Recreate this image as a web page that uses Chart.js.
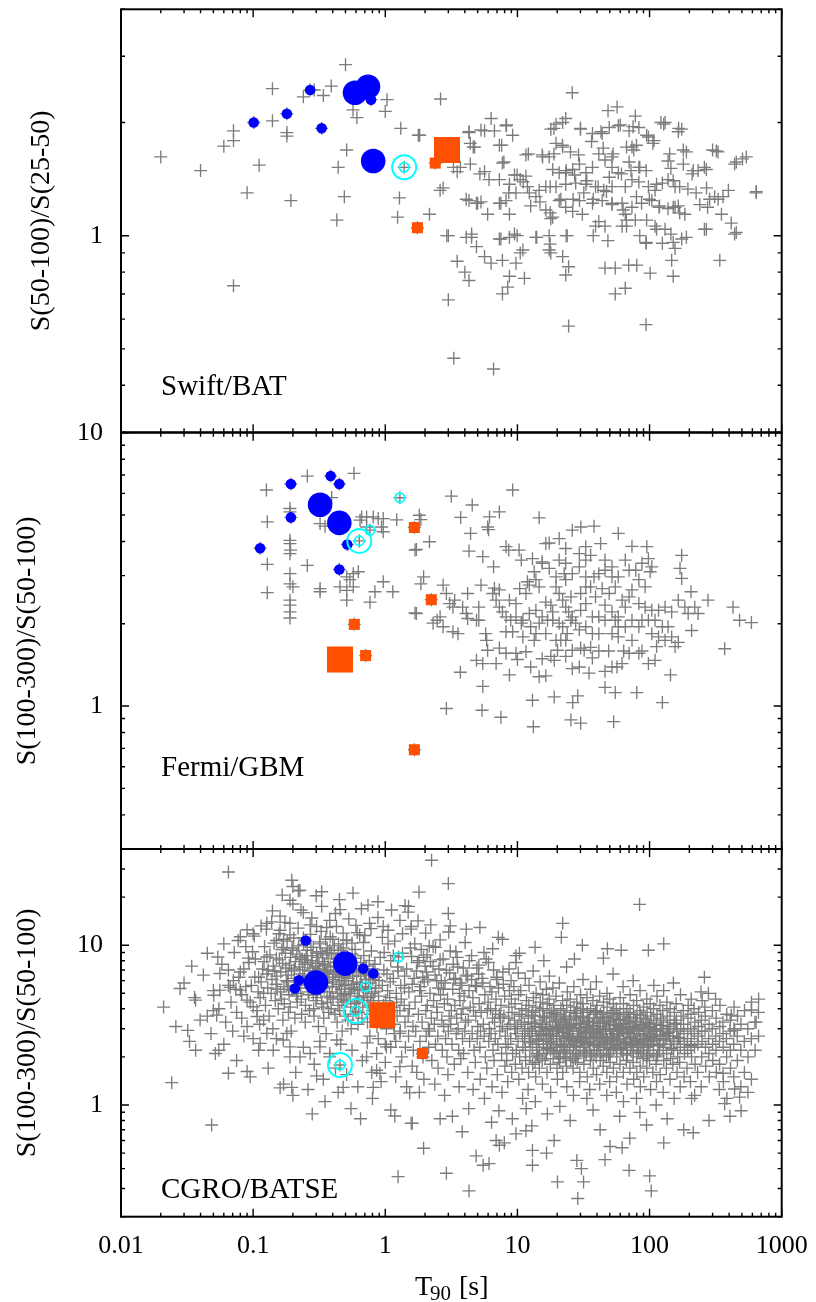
<!DOCTYPE html>
<html><head><meta charset="utf-8">
<script src="https://cdn.jsdelivr.net/npm/chart.js@4.4.1/dist/chart.umd.min.js"></script>
<style>
html,body{margin:0;padding:0;background:#fff;}
#wrap{position:relative;width:816px;height:1302px;}
#wrap canvas{position:absolute;left:0;top:0;}
</style></head><body>
<div id="wrap">
<canvas id="c1" width="816" height="1302"></canvas>
<canvas id="c2" width="816" height="1302"></canvas>
<canvas id="c3" width="816" height="1302"></canvas>
</div>
<script>
// ---------- axis ticks ----------
const xMajorTicks=[0.01,0.1,1,10,100,1000];
const xTickLabels=['0.01','0.1','1','10','100','1000'];
const swiftYMajor=[1];
const swiftYMinor=[0.3,0.4,0.5,0.6,0.7,0.8,0.9,2,3,4];
const fermiYMajor=[1,10];
const fermiYMinor=[0.3,0.4,0.5,0.6,0.7,0.8,0.9,2,3,4,5,6,7,8,9];
const batseYMajor=[1,10];
const batseYMinor=[0.2,0.3,0.4,0.5,0.6,0.7,0.8,0.9,2,3,4,5,6,7,8,9,20,30,40];

// ---------- Swift/BAT : [T90 (s), S(50-100)/S(25-50)] ----------
const swiftGray=[
[0.50,2.85],[0.14,2.46],[0.39,2.50],[0.24,2.34],[0.29,2.44],[0.34,2.36],[1.03,2.30],[0.57,2.16],[0.61,2.06],[1.0,2.14],[0.14,2.02],[0.071,1.90],[0.071,1.79],[0.060,1.73],[0.18,1.88],[0.18,1.84],[1.31,1.93],[1.78,1.85],[0.51,1.69],[0.020,1.62],[0.040,1.49],[0.111,1.54],[0.44,1.52],[0.090,1.30],[0.193,1.24],[0.49,1.27],[1.28,1.26],[0.43,1.10],[1.24,1.12],[0.071,0.736],[0.27,2.44],[0.101,2.0],[0.18,2.11],[0.33,1.93],[0.59,2.40],[0.74,2.49],[0.81,1.58],[0.78,2.30],[1.39,1.52],[1.75,1.05],[2.39,1.56],[2.93,1.69],
[2.62,2.31],[26.0,2.40],[48.5,2.15],[56.8,2.20],[78,2.08],[6.32,2.05],[8.2,1.96],[9.2,1.85],[5.64,1.90],[6.7,1.90],[4.3,1.88],[1.82,1.85],[4.74,1.72],[4.4,1.76],[7.3,1.74],[3.7,1.52],[4.4,1.55],[7.7,1.56],[3.5,1.48],[5.64,1.48],[6.1,1.41],[7.3,1.41],[9.5,1.45],[10.5,1.41],[11.6,1.44],[8.7,1.37],[2.6,1.32],[2.74,1.34],[4.3,1.24],[5.3,1.23],[4.9,1.22],[5.95,1.14],[7.3,1.22],[8.2,1.24],[8.7,1.14],[9.75,1.30],[12.3,1.30],[13.8,1.27],[2.16,1.14],[3.0,1.00],[4.1,0.99],[4.5,1.01],[4.9,0.935],[7.3,0.98],[8.7,0.99],[9.5,1.01],[13.8,0.99],[17.4,1.00],[23.8,1.00],[5.64,0.88],[6.32,0.845],[7.7,0.86],[10.5,0.90],[11.0,0.916],[9.75,0.845],[3.5,0.855],[4.0,0.80],[4.3,0.76],[8.7,0.78],[11.3,0.77],[8.44,0.73],[7.7,0.70],[3.0,0.675],[22.0,0.88],[24.4,0.827],[23.2,0.786],[17.4,0.916],[17.9,0.90],[24.4,0.575],[3.3,0.472],[6.6,0.442],[94,0.58],[55,0.70],[65.5,0.725],[46,0.82],[55,0.82],[69.5,0.835],[80,0.835],[101,0.795],[147,0.86],[151,0.78],[156,0.925],[94,0.955],[125,0.955],[175,0.98],[340,0.86],[440,1.01],[260,1.04],[415,1.08],[185,1.14],[156,1.19],[275,1.19],[350,1.14],[640,1.30],[505,1.60],[440,1.55],[300,1.69],[330,1.67],[233,1.49],[260,1.52],[210,1.46],[195,1.33],[225,1.30],[270,1.34],[311,1.27],[395,1.32],[330,1.25],[165,1.89],[175,1.92],[128,1.98],[131,2.00],[108,1.79],[98,1.83],[180,1.69],[180,1.55],[138,1.58],[145,1.51],[73.6,1.72],[76,1.69],[83,1.52],[70,1.57],[52,1.62],[41.3,1.65],[46,1.59],[52,1.52],[58,1.47],[37,1.52],[33,1.47],[29.5,1.55],[26.2,1.50],[23.2,1.47],[20.7,1.47],[18.5,1.50],[17.4,1.62],[15.4,1.64],[19.6,1.76],[22.0,1.72],[17.9,1.92],[19.6,1.98],[23.2,2.05],[30,1.92],[37,1.87],[43.8,1.87],[49.5,1.94],[58,1.96],[70,1.90],[83,1.94],[11.6,1.64],[11.9,1.35],[14.6,1.32],[16.4,1.35],[19.6,1.35],[23.2,1.37],[27.6,1.38],[33,1.37],[39,1.35],[45,1.32],[52,1.35],[65.5,1.35],[73.6,1.41],[83,1.39],[98,1.35],[110,1.32],[125,1.38],[138,1.41],[156,1.35],[29.5,1.24],[37,1.22],[43.8,1.24],[52,1.22],[62,1.22],[73.6,1.19],[87,1.22],[104,1.24],[118,1.19],[138,1.18],[165,1.20],[16.4,1.17],[18.5,1.12],[23.2,1.19],[26.2,1.16],[31,1.14],[39,1.06],[41.3,1.09],[46,1.06],[62,1.06],[65.5,1.14],[78,1.10],[95,1.10],[110,1.06],[131,1.04],[145,1.01],[17.9,1.11],[20.7,1.24],
[4.3,1.89],[5.3,1.91],[8.27,1.97],[18.9,1.93],[22,2.0],[30,1.93],[42.9,1.89],[60,1.97],[75,1.95],[95,1.85],[122,2.0],[166,1.93],
[4.63,1.72],[7.6,1.74],[12.1,1.65],[15.5,1.62],[18.9,1.65],[21.9,1.74],[25.2,1.67],[29,1.64],[36.4,1.78],[44.6,1.71],[53,1.65],[66.9,1.72],[79.6,1.74],[106,1.76],[142,1.65],[190,1.67],[320,1.68],[453,1.57],[540,1.62],
[3.28,1.52],[5.2,1.46],[7.9,1.57],[9.95,1.45],[11.06,1.39],[17.7,1.35],[23.4,1.49],[27.1,1.45],[33.5,1.40],[40.8,1.35],[49.6,1.43],[61.3,1.46],[72.3,1.49],[84.3,1.52],[94.3,1.49],[113,1.37],[151,1.40],[169,1.35],[214,1.49],[269,1.50],[360,1.27],[643,1.31],
[4.1,1.25],[5.0,1.22],[7.5,1.22],[8.6,1.30],[12.6,1.20],[14.8,1.23],[17.7,1.15],[21.3,1.25],[26.4,1.25],[31.8,1.30],[37.5,1.25],[47.2,1.31],[52.1,1.21],[63.1,1.17],[66.9,1.10],[79.6,1.27],[99.6,1.25],[119,1.20],[151,1.19],[169,1.15],[240,1.21],[285,1.25],
[2.92,1.00],[4.5,0.99],[7.5,0.98],[9.95,1.00],[14.0,0.99],[17.7,0.95],[23.4,1.00],[37.5,1.00],[48.4,0.97],[66.9,1.06],[84.3,1.00],[94.3,0.96],[113,1.04],[151,0.96],[190,0.99],[269,1.04],[453,1.02]
];
const swiftBlueSmall=[[0.101,2.0],[0.18,2.11],[0.27,2.44],[0.33,1.93],[0.78,2.30]];
const swiftBlueLarge=[[0.59,2.40],[0.74,2.49],[0.81,1.58]];
const swiftCyan=[[1.39,1.52]];
const swiftCyanLarge=[[1.39,1.52]];
const swiftOrangeSmall=[[2.39,1.56],[1.75,1.05]];
const swiftOrangeLarge=[[2.93,1.69]];

// ---------- Fermi/GBM : [T90 (s), S(100-300)/S(50-100)] ----------
const fermiGray=[
[0.126,6.17],[0.257,6.94],[0.58,7.1],[0.393,5.79],[0.190,5.28],[0.190,5.13],[0.128,4.72],[0.321,4.65],[0.35,4.55],[0.405,4.55],[0.663,4.92],[0.722,4.92],[0.811,4.92],[0.884,4.85],[0.965,4.85],[1.22,4.80],[0.937,4.52],[0.965,4.34],[0.722,4.52],[0.644,4.79],[0.190,4.04],[0.190,3.93],[0.192,3.72],[0.190,3.61],[0.128,3.30],[0.257,3.27],[0.190,3.05],[0.190,2.80],[0.20,2.73],[0.321,2.69],[0.321,2.62],[0.454,2.73],[0.511,2.97],[0.573,3.05],[0.625,3.10],[0.540,2.90],[0.511,2.65],[0.573,2.73],[0.511,2.44],[0.766,2.40],[0.835,2.62],[0.965,2.85],[1.14,2.62],[0.128,2.60],[0.190,2.44],[0.190,2.34],[0.190,2.21],[0.190,2.10],[1.68,3.72],[1.68,2.19],
[0.193,6.49],[0.386,6.94],[0.449,6.49],[0.193,4.90],[0.113,3.78],[0.516,3.90],[0.449,3.16],[0.321,5.45],[0.449,4.68],[1.29,5.78],[0.766,4.40],[0.636,4.02],[0.583,1.99],[0.454,1.48],[0.71,1.53],[1.66,4.50],[2.23,2.45],[1.66,0.692],
[3.16,5.86],[4.55,5.44],[9.2,6.17],[14.6,4.88],[3.72,4.90],[6.15,4.92],[7.3,5.13],[5.95,4.52],[6.05,4.42],[1.81,4.99],[1.86,4.81],[4.42,4.28],[2.16,3.99],[1.72,3.74],[4.3,3.69],[5.47,3.52],[6.6,3.23],[8.2,3.83],[8.6,3.72],[10.3,3.72],[10.7,3.42],[13.0,3.46],[15.4,3.37],[16.4,3.93],[17.4,3.95],[20.7,4.10],[23.2,3.77],[26.0,4.40],[30.2,4.52],[38,4.55],[58,4.28],[73.6,3.84],[95.4,3.83],[98,3.46],[104,3.23],[101,3.10],[170,3.19],[175,3.56],[175,2.93],[206,2.62],[277,2.44],[428,2.30],[480,2.06],[590,2.02],[370,1.62],[208,1.89],[165,1.71],[144,1.30],[125,1.03],[80,1.12],[55,1.12],[46,1.17],[53.5,0.877],[30.1,0.866],[25.4,0.89],[28.6,1.09],[26.2,1.03],[19.0,1.08],[13.0,1.05],[13.2,0.84],[7.5,0.91],[5.4,0.965],[2.9,0.98],[3.7,1.33],[5.47,1.18],[6.9,1.43],[8.7,1.30],[10.0,1.48],[12.6,1.39],[14.6,1.28],[16.4,1.29],[17.9,1.52],[20.1,1.60],[21.3,1.74],[26.0,1.37],[29.4,1.39],[34.8,1.32],[46,1.34],[52,1.39],[56.7,1.39],[61.9,1.43],[63.7,1.59],[58,1.79],[49,1.59],[41.3,1.59],[35.8,1.64],[30.1,1.63],[26,1.60],[23.2,1.74],[19.6,1.74],[16.4,1.84],[13.8,1.84],[13.4,1.74],[11.0,1.79],[9.2,1.87],[8.2,1.87],[7.3,1.63],[5.95,1.60],[5.85,1.74],[5.75,1.84],[5.1,2.06],[4.2,2.09],[3.55,1.84],[3.25,1.87],[2.74,1.95],[2.47,2.06],[2.30,2.01],[1.72,2.18],[1.95,2.97],[1.86,2.80],[2.74,2.77],[2.9,2.58],[3.35,2.44],[3.25,2.30],[4.2,2.58],[5.3,2.77],[6.5,2.58],[6.9,2.44],[7.3,2.30],[7.7,2.21],[8.2,2.12],[8.9,2.06],[9.75,2.12],[10.7,2.01],[11.6,2.58],[12.3,2.77],[13.8,2.90],[14.6,2.73],[16.4,2.40],[17.9,2.34],[19.6,2.73],[20.7,2.58],[22.0,2.44],[23.2,2.30],[24.4,2.21],[26.0,2.12],[27.6,2.01],[30.1,2.24],[32.9,2.37],[35.8,2.73],[38,2.97],[41.3,3.05],[46,3.42],[52,2.97],[55,2.73],[58,2.97],[62,2.44],[65.5,2.30],[70,2.51],[73.6,2.66],[83,2.37],[92.6,2.30],[104,2.24],[117,2.24],[131,2.30],[147,2.21],[165,2.44],[185,2.30],[220,2.30],[233,2.18],[196,2.18],[92.6,2.73],[83,2.90],[73.6,2.06],[65.5,1.95],[83,1.95],[104,1.84],[117,1.79],[131,1.74],[110,1.47],[98,1.43],[87.6,1.59],[55,2.06],[46,2.06],[41.3,2.12],[36.9,2.12],[32.9,1.95],[29.4,1.90],[20.7,2.01],[18.5,2.06],[15.4,2.12],[13.8,2.24],[12.3,2.18],[11.0,2.06],[9.75,2.37],[8.7,2.44],[7.3,2.66],[6.7,2.70],[5.1,2.30],[4.9,2.06],[4.1,2.18],[3.85,2.30],[3.07,2.37],[2.6,2.12],[5.47,1.43],[4.9,1.47],[42.6,3.93],[35.8,3.56],[32.9,3.42],[29.4,3.23],[26.0,3.05],[23.2,2.90],[19.6,2.97],[17.4,3.19],[15.4,3.33],[13.4,3.10],[11.9,2.85],[10.4,2.69],[46,2.34],[52,2.21],[58,2.12],[39,2.51],[43.8,2.69],[49.5,2.58],[32.9,2.73],[25.4,2.51],[30.1,2.58],[18.5,2.21],[16.9,2.06],[14.6,2.01],[12.6,1.95],[22,1.95],[23.8,1.84],[25.4,2.06],[36.9,1.84],[41.3,1.84],[52,1.84],[58,1.95],[73.6,1.74],[70,1.56],[87.6,2.06],[98,2.06],[110,2.06],[125,1.95],[138,1.95],[147,1.79],[156,1.65],[113,1.65],[83,1.56],[36.9,1.50],[32,1.60],[23.2,1.52],[19.0,1.47],[15.4,1.49],[11.6,1.58],[9.75,1.56],[8.2,1.56],[20.7,3.42],[23.2,3.33],[29.4,3.61],[32.9,3.83],[22.6,3.05],[32.9,2.97],[46,3.14],[52,3.23],[70,3.14],[78.7,3.14],[65.5,3.42],[87.6,3.33]
];
const fermiBlueSmall=[[0.193,6.49],[0.386,6.94],[0.449,6.49],[0.193,4.90],[0.113,3.78],[0.516,3.90],[0.449,3.16]];
const fermiBlueLarge=[[0.321,5.45],[0.449,4.68]];
const fermiCyan=[[1.29,5.78],[0.766,4.40],[0.636,4.02]];
const fermiCyanLarge=[[0.636,4.02]];
const fermiOrangeSmall=[[0.583,1.99],[0.71,1.53],[1.66,4.50],[2.23,2.45],[1.66,0.692]];
const fermiOrangeLarge=[[0.454,1.48]];

// ---------- CGRO/BATSE : [T90 (s), S(100-300)/S(50-100)] ----------
const batseGray=[
[0.065,28.7],[0.196,25.5],[0.20,23.3],[0.226,22.1],[0.19,19.1],[0.166,20.6],[0.23,16.6],[0.33,21.6],[0.455,16.7],[0.88,18.7],[1.115,16.6],[1.41,17.7],[1.49,16.1],[0.077,10.7],[0.100,11.8],[0.127,13.7],[0.138,14.0],[0.15,10.7],[0.054,8.44],[0.0343,7.39],[0.028,5.36],[0.0397,3.40],[0.0367,4.53],[0.0504,4.86],[0.053,3.65],[0.032,2.93],[0.0367,2.20],[0.0518,2.10],[0.065,1.58],[0.090,1.62],[0.0242,1.38],[0.0485,0.75],[0.196,1.29],[0.302,1.52],[0.48,1.29],[1.18,0.853],[1.25,0.356],[1.57,0.768],[0.080,6.8],[0.0709,6.0],[0.056,6.65],[0.056,5.23],[0.067,5.45],[0.080,5.23],[0.090,4.53],[0.100,4.12],[0.107,3.58],[0.12,3.40],[0.127,2.81],[0.113,2.43],[0.142,2.20],[0.169,2.55],[0.18,2.81],[0.19,2.31],[0.226,2.00],[0.27,2.10],[0.32,2.31],[0.38,2.00],[0.43,2.55],[0.722,2.00],[0.86,1.65],[0.81,1.29],[0.91,1.58],[1.29,1.74],[1.53,1.19],[1.02,2.31],[1.29,2.81],[0.127,8.44],[0.169,9.7],[0.226,8.44],[0.285,9.7],[0.38,9.3],[0.51,10.7],[0.64,11.6],[0.76,13.7],[0.965,13.1],[1.29,14.3],[1.57,13.1],[0.38,14.3],[0.302,13.1],[0.19,13.7],[0.16,12.4],
[0.093,7.8],[0.097,5.6],[0.095,4.4],[0.099,9.1],[0.103,6.3],[0.107,3.9],[0.104,8.2],[0.109,5.1],[0.102,11.4],[0.113,4.7],[0.118,7.1],[0.115,5.9],[0.112,3.2],[0.122,9.8],[0.127,6.6],[0.124,4.2],[0.129,5.4],[0.121,7.9],[0.126,12.6],[0.132,3.6],[0.137,5.0],[0.134,8.7],[0.139,6.1],[0.142,7.4],[0.147,4.5],[0.144,10.3],[0.149,5.7],[0.141,3.0],[0.146,6.9],[0.152,5.3],[0.158,8.1],[0.155,4.0],[0.151,6.4],[0.157,11.8],[0.162,6.8],[0.168,3.4],[0.165,9.4],[0.161,5.1],[0.167,7.7],[0.164,4.6],[0.172,4.3],[0.178,6.0],[0.175,8.9],[0.171,5.5],[0.177,7.2],[0.174,13.9],[0.182,5.9],[0.188,7.5],[0.185,3.8],[0.181,10.6],[0.187,4.9],[0.184,6.5],[0.192,8.4],[0.198,5.2],[0.195,6.9],[0.191,4.1],[0.197,9.6],[0.194,2.9],[0.205,6.2],[0.213,4.8],[0.209,7.9],[0.203,11.1],[0.211,5.6],[0.207,3.5],[0.214,8.8],[0.218,5.0],[0.224,7.3],[0.221,9.9],[0.216,4.4],[0.226,6.6],[0.219,12.8],[0.231,4.6],[0.239,6.1],[0.235,8.2],[0.229,5.4],[0.237,7.0],[0.233,3.7],[0.241,10.1],[0.246,7.6],[0.254,5.8],[0.249,4.2],[0.257,9.3],[0.244,6.4],[0.252,8.6],[0.248,3.3],[0.261,5.1],[0.269,6.9],[0.264,4.9],[0.272,11.7],[0.259,7.8],[0.267,3.9],[0.276,8.0],[0.284,5.5],[0.279,6.3],[0.287,4.0],[0.274,9.7],[0.282,7.2],[0.278,14.8],[0.291,6.7],[0.299,4.5],[0.294,5.9],[0.302,8.9],[0.289,3.6],[0.297,7.4],[0.306,5.2],[0.315,7.7],[0.309,6.0],[0.318,10.5],[0.304,4.7],[0.312,3.1],[0.308,8.4],[0.321,6.5],[0.33,4.3],[0.324,9.1],[0.333,5.6],[0.319,7.1],[0.327,12.2],[0.336,7.9],[0.345,5.4],[0.339,4.1],[0.348,6.8],[0.334,8.7],[0.342,3.5],[0.351,5.8],[0.36,6.6],[0.354,10.9],[0.363,4.8],[0.349,7.5],[0.357,2.8],[0.366,4.4],[0.375,6.3],[0.369,8.3],[0.378,5.1],[0.364,9.6],[0.372,3.8],[0.368,7.0],[0.385,7.3],[0.396,5.5],[0.389,4.0],[0.399,6.1],[0.383,11.3],[0.392,8.9],[0.405,5.9],[0.416,3.7],[0.409,7.8],[0.419,6.6],[0.403,4.6],[0.412,9.9],[0.425,8.2],[0.436,5.0],[0.429,6.9],[0.439,4.2],[0.423,7.4],[0.432,3.3],[0.427,13.1],[0.445,6.4],[0.456,4.8],[0.449,5.7],[0.459,8.5],[0.443,10.2],[0.452,3.9],[0.465,5.3],[0.476,7.2],[0.469,4.4],[0.479,6.0],[0.463,9.3],[0.472,2.9],[0.485,7.7],[0.496,4.9],[0.489,6.5],[0.499,3.6],[0.483,8.1],[0.492,5.6],[0.512,4.5],[0.527,6.2],[0.518,7.9],[0.531,5.1],[0.509,10.8],[0.522,3.4],[0.542,6.8],[0.557,5.4],[0.548,4.1],[0.561,8.8],[0.539,7.3],[0.552,3.0],[0.572,5.7],[0.587,4.3],[0.578,6.9],[0.591,9.4],[0.569,3.7],[0.602,7.0],[0.618,4.8],[0.608,5.9],[0.622,3.2],[0.598,8.3],[0.613,12.0],[0.632,4.6],[0.648,6.4],[0.638,5.2],[0.652,7.8],[0.628,3.8],[0.671,5.5],[0.688,8.6],[0.677,4.1],[0.692,6.7],[0.666,3.5],[0.684,10.4],[0.711,6.1],[0.729,4.7],[0.717,7.4],[0.733,3.3],[0.706,5.3],[0.751,4.2],[0.769,5.8],[0.757,8.0],[0.773,3.7],[0.746,6.5],[0.764,2.7],[0.79,5.0],[0.81,7.1],[0.797,3.9],[0.815,4.5],[0.785,9.2],[0.84,6.3],[0.86,4.0],[0.847,5.4],[0.865,3.1],[0.835,7.6],[0.89,4.8],[0.91,3.5],[0.897,6.0],[0.915,8.4],[0.885,2.6],[0.95,5.6],[0.97,4.2],[0.957,3.3],[0.975,7.0],[1.01,4.5],[1.03,6.6],[1.02,3.0],[1.04,5.2],[1.0,2.4],[1.07,3.8],[1.09,5.9],[1.08,4.7],[1.1,8.0],[1.14,4.1],[1.16,3.2],[1.15,6.2],[1.17,2.8],[1.21,5.0],[1.23,3.6],[1.22,4.4],[1.24,7.3],[1.2,2.5],[1.29,3.9],[1.31,5.6],[1.3,2.9],[1.32,4.6],[1.39,4.2],[1.41,3.3],[1.4,6.4],[1.42,2.3],[1.49,3.6],[1.51,5.1],[1.5,2.7],[1.52,4.0],
[0.185,5.3],[0.205,7.1],[0.225,5.9],[0.245,8.1],[0.265,6.1],[0.285,4.9],[0.305,6.9],[0.325,5.1],[0.345,7.6],[0.365,5.9],[0.385,4.7],[0.405,6.8],[0.425,5.5],[0.445,7.9],[0.465,6.3],[0.485,4.6],[0.505,6.0],[0.525,7.5],[0.545,5.0],[0.565,6.4],[0.585,5.3],[0.605,4.4],[0.625,6.9],[0.655,5.8],[0.685,4.8],[0.715,6.6],[0.745,5.4],[0.775,4.5],[0.805,6.1],[0.835,5.1],[0.2,9.3],[0.24,11.1],[0.28,8.6],[0.32,10.2],[0.36,8.9],[0.4,10.9],[0.44,8.7],[0.48,9.6],[0.52,8.4],[0.56,10.3],[0.15,8.3],[0.17,10.9],[0.13,7.0],[0.11,6.3],[0.12,5.0],
[0.16,15.2],[0.2,18.1],[0.24,16.0],[0.27,13.4],[0.33,17.5],[0.36,12.9],[0.42,15.8],[0.48,11.9],[0.53,14.6],[0.6,13.3],[0.66,16.9],[0.7,11.5],[0.78,12.7],[0.88,14.9],[0.95,11.2],[1.05,12.4],[1.18,10.6],[1.35,11.8],[0.3,20.4],[0.22,21.9],[0.45,19.3],[0.74,17.8],[0.57,21.2],[0.19,11.6],[0.115,13.2],[0.14,16.4],
[0.06,2.4],[0.075,1.9],[0.085,2.7],[0.095,1.5],[0.11,2.2],[0.13,1.7],[0.15,2.6],[0.17,1.35],[0.19,2.0],[0.21,1.6],[0.24,2.3],[0.26,1.25],[0.29,1.8],[0.32,2.5],[0.34,1.45],[0.38,2.1],[0.42,1.7],[0.46,2.4],[0.51,1.55],[0.56,2.2],[0.62,1.3],[0.67,1.9],[0.73,2.45],[0.79,1.6],[0.86,2.1],[0.93,1.4],[1.0,1.85],[1.1,2.3],[1.2,1.5],[1.33,2.0],[1.45,1.3],[1.6,1.75],[0.2,1.15],[0.35,1.05],[0.55,0.95],[0.8,1.1],[1.1,0.93],[0.16,1.28],[0.44,1.2],[0.28,0.88],[0.65,0.82],
[0.021,4.1],[0.026,3.1],[0.03,5.8],[0.033,2.5],[0.036,4.7],[0.042,6.5],[0.045,3.6],[0.048,2.8],[0.05,5.2],[0.055,4.0],[0.058,7.6],[0.062,3.3],[0.065,5.6],[0.068,4.4],[0.072,9.0],[0.075,3.8],[0.078,6.3],[0.082,4.9],[0.085,7.1],[0.088,5.5],[0.09,3.1],[0.092,8.3],[0.045,8.9],[0.06,10.2],[0.08,11.3],[0.07,2.9],[0.055,2.2],[0.09,12.5],[0.1,2.6],[0.065,7.0],[0.074,5.3],[0.082,3.5],[0.088,9.8],[0.05,3.9],
[1.58,8.5],[1.62,3.1],[1.6,5.7],[1.63,2.2],[1.57,12.6],[1.68,4.4],[1.72,6.9],[1.7,2.9],[1.73,1.6],[1.67,10.2],[1.78,3.7],[1.82,5.2],[1.8,8.0],[1.83,2.5],[1.77,14.2],[1.81,1.2],[1.88,4.8],[1.92,6.3],[1.9,3.3],[1.93,2.0],[1.87,9.4],[1.97,5.9],[2.03,3.9],[2.0,7.4],[2.04,2.7],[1.96,1.45],[2.02,11.9],[2.08,4.2],[2.12,3.0],[2.1,6.1],[2.13,2.3],[2.07,8.7],[2.18,5.0],[2.23,3.5],[2.2,7.9],[2.25,1.9],[2.16,2.9],[2.21,13.4],[2.32,4.5],[2.38,6.5],[2.35,3.2],[2.4,2.4],[2.3,9.8],[2.37,1.35],[2.47,3.8],[2.53,5.4],[2.5,2.7],[2.55,7.1],[2.45,4.1],[2.51,1.7],[2.62,4.9],[2.68,3.4],[2.65,6.0],[2.7,2.2],[2.6,10.8],[2.77,3.1],[2.83,5.8],[2.8,4.3],[2.86,2.6],[2.74,8.2],[2.81,1.15],[2.96,4.6],[3.04,3.6],[3.0,2.9],[3.07,6.7],[2.93,2.0],[3.02,12.1],[2.98,1.55],[3.16,3.9],[3.24,5.3],[3.2,2.4],[3.27,7.6],[3.13,3.2],[3.22,0.85],[3.36,4.2],[3.44,2.8],[3.4,6.2],[3.47,3.5],[3.33,1.8],[3.42,9.1],[3.56,3.0],[3.64,5.0],[3.6,2.2],[3.67,4.5],[3.53,7.3],[3.62,1.3],[3.76,3.7],[3.84,2.6],[3.8,5.6],[3.87,4.0],[3.73,1.95],[3.82,0.68],[3.95,4.8],[4.05,3.3],[4.0,2.9],[4.09,6.5],[3.91,2.1],[4.02,10.4],[4.25,3.4],[4.35,2.5],[4.3,5.2],[4.39,4.1],[4.21,1.6],[4.32,8.0],[4.28,0.95],[4.55,2.8],[4.65,3.9],[4.6,4.7],[4.7,2.2],[4.5,6.1],[4.62,1.25],[4.84,3.6],[4.96,2.6],[4.9,5.5],[5.0,3.1],[4.8,1.85],[4.93,7.2],[4.87,0.48],[5.14,4.3],[5.26,2.9],[5.2,2.3],[5.31,3.8],[5.09,6.6],[5.23,1.45],[5.53,3.2],[5.67,4.9],[5.6,2.7],[5.72,2.0],[5.48,5.8],[5.63,1.1],[5.58,9.0],[5.93,3.9],[6.07,2.5],[6.0,4.4],[6.13,3.0],[5.87,1.7],[6.04,7.8],[6.32,2.8],[6.48,3.5],[6.4,5.1],[6.54,2.2],[6.26,4.0],[6.43,1.3],[6.37,0.78],[6.72,3.3],[6.88,4.6],[6.8,2.6],[6.95,6.3],[6.65,1.9],[6.84,3.9],[7.11,2.4],[7.29,3.7],[7.2,5.4],[7.36,2.9],[7.04,1.55],[7.24,0.92],[7.17,11.2],[7.51,4.2],[7.69,3.1],[7.6,2.1],[7.77,6.8],[7.43,3.5],[7.64,1.2],[7.9,3.6],[8.1,2.7],[8.0,4.8],[8.18,2.3],[7.82,5.7],[8.04,1.75],[7.96,0.58],
[1.35,8.9],[1.45,7.1],[1.55,9.6],[1.65,6.2],[1.75,7.8],[1.85,5.5],[1.95,8.4],[2.05,6.8],[2.15,9.9],[2.3,7.4],[2.45,6.0],[2.6,8.1],[2.75,5.3],[2.9,7.0],[3.1,9.2],[3.3,6.1],[3.5,8.4],[3.7,5.8],[3.9,7.2],[4.2,6.4],[4.5,8.6],[4.8,5.6],[5.1,7.5],[5.4,6.2],[5.8,8.2],[6.2,5.5],[6.6,7.0],[7.0,6.1],[1.25,6.9],[1.4,5.4],[1.15,8.6],[1.05,10.2],[0.98,9.0],
[8.4,3.0],[8.6,4.1],[8.5,2.4],[8.7,5.2],[8.3,1.9],[8.55,3.5],[8.45,1.4],[8.65,7.1],[8.9,2.6],[9.1,3.8],[9.0,4.6],[9.2,2.1],[8.8,3.2],[9.05,1.6],[8.95,6.0],[9.15,0.82],[9.5,3.4],[9.7,2.8],[9.6,4.3],[9.8,2.2],[9.4,5.5],[9.65,1.8],[9.55,3.0],[9.75,0.66],[10.1,2.5],[10.3,3.7],[10.2,4.9],[10.4,2.0],[10.0,3.1],[10.25,1.45],[10.15,6.7],[10.35,8.9],[10.7,3.3],[10.9,2.7],[10.8,4.0],[11.0,2.3],[10.6,5.2],[10.85,1.7],[10.75,3.6],[10.95,1.1],[11.4,2.9],[11.6,3.9],[11.5,2.2],[11.7,4.5],[11.3,3.2],[11.55,1.9],[11.45,6.2],[11.65,0.95],[11.35,2.6],[12.1,3.5],[12.3,2.5],[12.2,4.2],[12.4,2.0],[12.0,3.0],[12.25,5.6],[12.15,1.6],[12.35,2.8],[12.05,1.25],[12.9,2.7],[13.1,3.8],[13.0,2.3],[13.2,4.7],[12.8,3.3],[13.05,1.8],[12.95,2.9],[13.15,6.9],[12.85,0.74],[13.7,3.1],[13.9,2.4],[13.8,4.1],[14.0,2.1],[13.6,3.6],[13.85,5.0],[13.75,1.5],[13.95,2.7],[13.65,1.05],[14.6,2.9],[14.8,3.4],[14.7,2.2],[14.9,4.4],[14.5,2.6],[14.75,3.9],[14.65,1.7],[14.85,5.9],[14.55,2.0],[15.5,3.2],[15.7,2.5],[15.6,4.0],[15.8,2.8],[15.4,1.9],[15.65,3.6],[15.55,4.9],[15.75,2.3],[15.45,1.35],[15.85,8.0],[16.5,2.6],[16.7,3.5],[16.6,2.1],[16.8,4.3],[16.4,3.0],[16.65,2.4],[16.55,5.3],[16.75,1.6],[16.45,2.9],[16.85,0.88],[17.5,3.3],[17.7,2.7],[17.6,3.9],[17.8,2.2],[17.4,4.6],[17.65,2.5],[17.55,3.1],[17.75,1.8],[17.45,6.4],[17.85,1.2],[18.6,2.8],[18.8,3.6],[18.7,2.3],[18.9,4.2],[18.5,3.0],[18.75,2.6],[18.65,1.95],[18.85,3.8],[18.55,5.4],[18.95,0.6],[19.7,3.1],[19.9,2.4],[19.8,3.7],[20.0,2.9],[19.6,4.8],[19.85,2.1],[19.75,3.4],[19.95,1.7],[19.65,2.7],[20.05,1.45],[20.8,2.7],[21.2,3.5],[21.0,2.2],[21.3,4.0],[20.7,3.0],[21.1,2.5],[20.9,1.85],[21.25,3.2],[20.75,5.8],[21.05,2.0],[20.95,0.98],[22.1,3.3],[22.5,2.6],[22.3,3.9],[22.6,2.3],[22.0,4.5],[22.4,2.9],[22.2,2.0],[22.55,3.6],[22.05,1.6],[22.35,2.4],[23.4,2.5],[23.8,3.1],[23.6,4.2],[23.9,2.8],[23.3,3.5],[23.7,2.2],[23.5,1.75],[23.85,5.1],[23.35,3.0],[23.65,1.3],[23.55,7.3],[24.8,3.4],[25.2,2.7],[25.0,2.1],[25.3,3.8],[24.7,2.4],[25.1,4.6],[24.9,3.1],[25.25,1.9],[24.75,2.6],[25.05,0.8],[26.3,2.9],[26.7,3.6],[26.5,2.3],[26.8,4.1],[26.2,2.6],[26.6,3.2],[26.4,1.7],[26.75,5.5],[26.25,2.0],[26.55,1.15],[27.9,3.2],[28.3,2.5],[28.1,3.9],[28.4,2.8],[27.8,2.1],[28.2,4.4],[28.0,3.5],[28.35,1.85],[27.85,2.35],[28.15,0.45],[29.6,2.7],[30.0,3.4],[29.8,2.2],[30.1,4.0],[29.5,3.0],[29.9,2.5],[29.7,1.6],[30.05,4.9],[29.55,1.4],[29.85,2.9],[31.4,3.6],[31.8,2.8],[31.6,2.3],[31.9,3.2],[31.3,4.3],[31.7,2.0],[31.5,2.6],[31.85,1.8],[31.35,6.1],[31.65,0.33],[31.55,3.9],[33.3,2.9],[33.7,3.3],[33.5,2.4],[33.8,3.8],[33.2,2.1],[33.6,4.7],[33.4,2.7],[33.75,1.5],[33.25,3.1],[33.55,1.1],[35.3,3.5],[35.7,2.6],[35.5,2.2],[35.8,4.0],[35.2,3.0],[35.6,1.9],[35.4,2.4],[35.75,5.3],[35.25,1.25],[35.55,2.8],[37.4,2.5],[37.8,3.7],[37.6,2.9],[37.9,2.1],[37.3,4.5],[37.7,3.3],[37.5,1.7],[37.85,2.6],[37.35,0.93],[37.65,3.0],[39.6,3.1],[40.0,2.4],[39.8,3.9],[40.1,2.7],[39.5,2.0],[39.9,4.2],[39.7,1.55],[40.05,3.5],[39.55,5.9],[39.85,2.2],[42.0,2.8],[42.4,3.4],[42.2,2.3],[42.5,3.0],[41.9,4.8],[42.3,1.9],[42.1,2.5],[42.45,3.7],[41.95,1.35],[42.25,0.7],[44.5,3.3],[44.9,2.6],[44.7,2.1],[45.0,3.8],[44.4,2.9],[44.8,4.4],[44.6,1.75],[44.95,2.4],[44.45,3.1],[44.75,8.3],[47.2,2.7],[47.6,3.5],[47.4,2.2],[47.7,4.1],[47.1,3.0],[47.5,1.6],[47.3,2.5],[47.65,5.0],[47.15,2.0],[47.45,1.15],[50.0,3.0],[50.4,2.4],[50.2,3.6],[50.5,2.8],[49.9,4.6],[50.3,1.85],[50.1,2.1],[50.45,3.3],[49.95,1.4],[50.25,0.55],[53.0,2.6],[53.4,3.2],[53.2,2.3],[53.5,3.9],[52.9,2.9],[53.3,1.7],[53.1,4.3],[53.45,2.5],[52.95,6.6],[53.25,3.5],[56.1,3.4],[56.7,2.7],[56.4,2.0],[56.8,3.0],[56.0,4.0],[56.5,2.4],[56.3,1.5],[56.75,3.7],[56.05,1.2],[56.45,2.2],[59.5,2.5],[60.1,3.1],[59.8,3.8],[60.2,2.2],[59.4,2.8],[59.9,4.7],[59.7,1.8],[60.15,3.4],[59.45,0.85],[63.1,3.2],[63.7,2.6],[63.4,2.1],[63.8,3.6],[63.0,2.9],[63.5,4.3],[63.3,1.6],[63.75,2.4],[63.05,5.5],[63.45,1.05],[66.9,2.8],[67.5,3.4],[67.2,2.3],[67.6,3.0],[66.8,1.9],[67.3,4.0],[67.1,2.6],[67.55,1.35],[66.85,3.7],[70.9,3.0],[71.5,2.5],[71.2,3.8],[71.6,2.2],[70.8,2.8],[71.3,4.9],[71.1,1.7],[71.55,3.3],[70.85,0.62],[75.2,2.7],[75.8,3.5],[75.5,2.4],[75.9,3.1],[75.1,1.85],[75.6,4.2],[75.4,2.1],[75.85,1.45],[75.15,6.0],[79.7,3.3],[80.3,2.6],[80.0,2.0],[80.4,3.7],[79.6,2.9],[80.1,1.6],[79.9,4.5],[80.35,2.3],[79.65,1.1],[84.5,2.5],[85.1,3.2],[84.8,2.8],[85.2,2.2],[84.4,3.9],[84.9,1.75],[84.7,5.2],[85.15,1.3],[84.45,0.9],[89.5,3.0],[90.3,2.4],[89.9,3.5],[90.4,2.7],[89.4,1.95],[90.0,4.1],[89.8,2.1],[90.35,1.5],[94.9,2.6],[95.7,3.3],[95.3,2.3],[95.8,3.8],[94.8,2.0],[95.4,1.7],[95.2,4.6],[95.75,2.9],[94.85,0.75],[100.5,3.1],[101.5,2.5],[101,2.8],[102,3.6],[100,1.9],[101.2,4.3],[100.8,2.2],[101.8,1.25],[100.2,0.36],[106.5,2.7],[107.5,3.4],[107,2.1],[108,3.0],[106,1.6],[107.2,4.0],[106.8,2.4],[107.8,5.6],[112.5,3.2],[113.5,2.6],[113,2.0],[114,3.7],[112,1.8],[113.2,2.9],[112.8,1.4],[113.8,4.8],[112.2,1.0],[119.5,2.4],[120.5,3.0],[120,2.7],[121,3.5],[119,2.2],[120.2,1.55],[119.8,4.2],[126.5,2.9],[127.5,3.3],[127,2.3],[128,1.9],[126,3.9],[127.2,2.6],[126.8,1.2],[127.8,5.2],[134.5,2.6],[135.5,3.1],[135,2.1],[136,3.6],[134,1.7],[135.2,4.4],[134.8,2.8],[135.8,0.82],[142.5,3.0],[143.5,2.4],[143,3.4],[144,1.95],[142,2.7],[143.2,4.0],[142.8,1.45],[151,2.7],[153,3.2],[152,2.2],[154,3.8],[150,1.8],[152.5,2.5],[151.5,5.8],[153.5,1.1],[160,3.4],[162,2.5],[161,2.9],[163,2.0],[159,4.3],[161.5,1.6],[160.5,3.0],[170,2.6],[172,3.0],[171,2.3],[173,3.6],[169,1.85],[171.5,4.9],[170.5,1.3],[181,3.2],[183,2.4],[182,2.8],[184,2.1],[180,3.9],[182.5,1.5],[181.5,0.7],[193,2.5],[195,3.5],[194,2.2],[196,4.2],[192,1.7],[194.5,2.9],[205,3.0],[207,2.6],[206,3.7],[208,2.0],[204,1.4],[206.5,4.6],[205.5,2.35],[218,2.8],[220,3.3],[219,2.3],[221,1.8],[217,4.0],[219.5,1.15],[232,2.4],[234,3.1],[233,2.7],[235,3.8],[231,1.6],[247,3.4],[249,2.5],[248,2.0],[250,4.5],[246,1.3],[248.5,2.9],[263,2.9],[265,2.3],[264,3.6],[266,1.75],[262,4.1],[280,2.6],[282,3.2],[281,2.1],[283,1.5],[279,5.0],[281.5,0.8],[298,3.0],[300,2.4],[299,3.9],[301,1.9],[317,2.7],[319,3.5],[318,2.2],[320,1.6],[316,4.6],[338,2.5],[340,3.1],[339,1.8],[341,4.2],[337,1.25],[359,3.3],[361,2.3],[360,2.8],[362,1.4],[382,2.6],[384,3.7],[383,2.0],[385,1.1],[407,2.9],[409,2.2],[408,3.4],[410,1.7],[406,0.85],[433,2.4],[435,3.0],[434,1.5],[436,4.1],[461,2.7],[463,3.6],[462,1.9],[490,2.2],[492,3.2],[491,1.3],[493,0.92],[521,2.5],[523,3.9],[522,1.6],[554,3.0],[556,2.0],[555,1.2],[589,2.6],[591,4.4],[590,1.45],[627,3.3],[629,2.2],[667,3.8],[669,4.6],[668,2.7],
[12.5,2.45],[13.4,3.25],[14.2,2.05],[15.1,2.75],[16.0,3.55],[16.9,2.25],[17.9,2.95],[18.2,3.75],[19.2,2.15],[20.3,3.05],[21.6,2.35],[22.8,3.45],[23.2,1.95],[24.3,2.65],[25.6,3.15],[27.2,2.45],[27.5,3.75],[28.8,2.05],[29.2,3.25],[30.6,2.55],[31.1,3.55],[32.4,2.15],[32.9,2.85],[34.4,3.35],[34.9,2.45],[36.5,2.05],[36.9,3.15],[38.6,2.75],[38.9,3.85],[41.0,2.35],[41.3,3.25],[43.5,2.65],[43.9,3.55],[46.0,2.45],[46.4,2.95],[48.8,3.35],[48.9,2.05],[51.7,2.65],[52.0,3.75],[54.8,2.35],[55.1,3.15],[58.0,2.75],[58.5,3.45],[61.6,2.25],[61.9,2.95],[65.3,3.25],[65.8,2.45],[69.2,2.85],[69.5,3.55],[73.4,2.35],[73.8,3.05],[77.7,2.55],[78.2,3.35],[82.4,2.15],[82.8,2.95],[87.3,3.15],[87.7,2.45],[92.6,2.75],[93.2,3.45],[98.0,2.35],[98.5,3.05],[104,2.65],[110,2.95],[116,2.35],[124,3.15],[131,2.55],[139,2.85],[147,2.25],[156,3.25],[166,2.65],
[12.8,3.65],[13.6,1.85],[14.4,2.55],[15.3,3.05],[16.2,1.95],[17.1,2.75],[18.1,2.45],[19.4,3.35],[20.5,1.95],[21.8,2.85],[22.9,2.15],[24.5,3.05],[25.9,2.55],[27.4,1.95],[28.9,2.65],[30.4,3.05],[32.1,2.45],[33.9,3.05],[35.9,2.65],[37.9,2.35],[40.4,2.85],[42.8,2.05],[45.4,3.25],[47.9,2.55],[50.8,2.25],[53.8,2.95],[57.1,2.55],[60.5,3.05],[64.1,2.45],[67.9,2.05],[72.1,2.65],[76.4,2.95],[81.0,2.45],[85.8,3.65],[91.0,2.55],[96.4,2.05],[102,3.25],[108,2.55],[115,2.05],[122,2.75],
[640,3.3],[590,3.93],[415,3.65],[440,2.93],[360,1.58],[440,1.26],[480,1.12],[370,1.02],[208,1.10],[214,0.67],[260,6.3],[245,5.1],[128,10.2],[84,18],[98,9.3],[48,9.5],[61,9.3],[31,10],[27,8.2],[22,13.7],[21.5,11.2],[13.6,9.7],[9.75,8.6],[9.75,7.8],[128,0.58],[103,0.29],[70,0.39],[62,0.54],[46,0.455],[30.5,0.40],[28.6,0.26],[20.1,0.33],[16.6,0.50],[13,0.52],[13,0.42],[11.6,0.69],[6.9,0.60],[7.3,0.56],[5.5,0.42],[6.1,0.43],[4.3,0.29],[2.9,0.374],[1.95,0.536],[2.6,0.82],[1.6,0.77],[2.24,34],[3.0,24.3],[1.80,21.5],[1.5,17.5],[3.0,15.8],[3.1,13.2],[4.1,12.6],[5.2,12.9],[6.5,9.5],[7.7,10.9],[2.4,9.7],
[0.25,10.7],[0.222,6.04],[0.207,5.36],[0.299,5.84],[0.498,7.67],[0.682,7.14],[0.812,6.65],[1.26,8.44],[0.71,5.49],[0.597,3.87],[0.454,1.78],[0.95,3.65],[1.91,2.10]
];
const batseBlueSmall=[[0.25,10.7],[0.222,6.04],[0.207,5.36],[0.682,7.14],[0.812,6.65]];
const batseBlueLarge=[[0.299,5.84],[0.498,7.67]];
const batseCyan=[[1.26,8.44],[0.71,5.49],[0.597,3.87],[0.454,1.78]];
const batseCyanLarge=[[0.597,3.87],[0.454,1.78]];
const batseOrangeSmall=[[1.91,2.10]];
const batseOrangeLarge=[[0.95,3.65]];

// ---------- rendering ----------
const FONT="'Liberation Serif','DejaVu Serif',serif";
const xMinorTicks=[];
[0.01,0.1,1,10,100].forEach(d=>{for(let k=2;k<=9;k++)xMinorTicks.push(d*k);});
const toXY=a=>a.map(p=>({x:p[0],y:p[1]}));

const framePlugin={
  id:'frame',
  afterDraw(chart,args,o){
    const {ctx,chartArea:a,scales:{x,y}}=chart;
    ctx.save();
    ctx.strokeStyle='#000';
    ctx.lineWidth=1.4;
    ctx.beginPath();
    const xt=(vals,len)=>vals.forEach(v=>{const p=x.getPixelForValue(v);
      if(p<a.left-0.5||p>a.right+0.5)return;
      ctx.moveTo(p,a.bottom);ctx.lineTo(p,a.bottom-len);
      ctx.moveTo(p,a.top);ctx.lineTo(p,a.top+len);});
    const yt=(vals,len)=>vals.forEach(v=>{const p=y.getPixelForValue(v);
      if(p<a.top-0.5||p>a.bottom+0.5)return;
      ctx.moveTo(a.left,p);ctx.lineTo(a.left+len,p);
      ctx.moveTo(a.right,p);ctx.lineTo(a.right-len,p);});
    xt(xMajorTicks,8);xt(xMinorTicks,4);
    yt(o.yMajor,8);yt(o.yMinor,4);
    ctx.stroke();
    ctx.lineWidth=2;
    ctx.strokeRect(a.left,a.top,a.right-a.left,a.bottom-a.top);
    ctx.fillStyle='#000';
    ctx.textBaseline='alphabetic';
    ctx.textAlign='left';
    ctx.font='29px '+FONT;
    ctx.fillText(o.label,161,o.labelY);
    if(o.xTitle){
      ctx.font='28px '+FONT;
      ctx.fillText('T',415,1295);
      ctx.font='21px '+FONT;
      ctx.fillText('90',430,1300);
      ctx.font='28px '+FONT;
      ctx.fillText('[s]',459,1295);
    }
    ctx.restore();
  }
};

function makePanel(id,p){
  const datasets=[
    {data:toXY(p.cyanLarge),pointStyle:'circle',pointRadius:12,pointBorderWidth:2,pointBorderColor:'#00ffff',pointBackgroundColor:'rgba(0,0,0,0)',order:0},
    {data:toXY(p.cyan),pointStyle:'circle',pointRadius:4.7,pointBorderWidth:1.8,pointBorderColor:'#00ffff',pointBackgroundColor:'rgba(0,0,0,0)',order:1},
    {data:toXY(p.orangeLarge),pointStyle:'rect',pointRadius:18.4,pointBorderWidth:0,pointBackgroundColor:'#ff4f00',order:2},
    {data:toXY(p.orangeSmall),pointStyle:'rect',pointRadius:7.8,pointBorderWidth:0,pointBackgroundColor:'#ff4f00',order:3},
    {data:toXY(p.blueLarge),pointStyle:'circle',pointRadius:12.3,pointBorderWidth:0,pointBackgroundColor:'#0000ff',order:4},
    {data:toXY(p.blueSmall),pointStyle:'circle',pointRadius:5.3,pointBorderWidth:0,pointBackgroundColor:'#0000ff',order:5},
    {data:toXY(p.gray),pointStyle:'cross',pointRadius:6.5,pointBorderWidth:1.35,pointBorderColor:'#7c7c7c',pointBackgroundColor:'rgba(0,0,0,0)',order:10}
  ];
  datasets.forEach(d=>{d.clip=false;d.pointHoverRadius=d.pointRadius;});
  return new Chart(document.getElementById(id),{
    type:'scatter',
    data:{datasets},
    options:{
      responsive:false,animation:false,events:[],devicePixelRatio:1,
      layout:{autoPadding:false,padding:{left:0,right:34.3,top:p.padTop,bottom:p.padBottom}},
      plugins:{legend:{display:false},tooltip:{enabled:false},
        frame:{label:p.label,labelY:p.labelY,yMajor:p.yMajor,yMinor:p.yMinor,xTitle:p.showX}},
      scales:{
        x:{type:'logarithmic',min:0.01,max:1000,display:p.showX,
          grid:{display:false,drawTicks:false},border:{display:false},
          afterBuildTicks:s=>{s.ticks=xMajorTicks.map(v=>({value:v}));},
          afterFit:s=>{s.height=p.showX?85.3:0;s.paddingLeft=0;s.paddingRight=0;},
          ticks:{autoSkip:false,maxRotation:0,minRotation:0,padding:14,color:'#000',font:{family:FONT,size:26},
            callback:v=>xTickLabels[xMajorTicks.indexOf(v)]}},
        y:{type:'logarithmic',min:p.yMin,max:p.yMax,
          grid:{display:false,drawTicks:false},border:{display:false},
          afterBuildTicks:s=>{s.ticks=p.yMajor.map(v=>({value:v}));},
          afterFit:s=>{s.width=121;s.paddingTop=0;s.paddingBottom=0;},
          ticks:{autoSkip:false,padding:18,color:'#000',font:{family:FONT,size:26},callback:v=>String(v)},
          title:{display:true,text:p.yTitle,color:'#000',font:{family:FONT,size:28},padding:{top:p.titlePad,bottom:0}}}
      }
    },
    plugins:[framePlugin]
  });
}

makePanel('c1',{gray:swiftGray,blueSmall:swiftBlueSmall,blueLarge:swiftBlueLarge,cyan:swiftCyan,cyanLarge:swiftCyanLarge,orangeSmall:swiftOrangeSmall,orangeLarge:swiftOrangeLarge,
  yMin:0.3,yMax:4,yMajor:swiftYMajor,yMinor:swiftYMinor,yTitle:'S(50-100)/S(25-50)',titlePad:25,label:'Swift/BAT',labelY:395,padTop:9.3,padBottom:869.7,showX:false});
makePanel('c2',{gray:fermiGray,blueSmall:fermiBlueSmall,blueLarge:fermiBlueLarge,cyan:fermiCyan,cyanLarge:fermiCyanLarge,orangeSmall:fermiOrangeSmall,orangeLarge:fermiOrangeLarge,
  yMin:0.3,yMax:10,yMajor:fermiYMajor,yMinor:fermiYMinor,yTitle:'S(100-300)/S(50-100)',titlePad:11,label:'Fermi/GBM',labelY:776,padTop:432.7,padBottom:453,showX:false});
makePanel('c3',{gray:batseGray,blueSmall:batseBlueSmall,blueLarge:batseBlueLarge,cyan:batseCyan,cyanLarge:batseCyanLarge,orangeSmall:batseOrangeSmall,orangeLarge:batseOrangeLarge,
  yMin:0.2,yMax:40,yMajor:batseYMajor,yMinor:batseYMinor,yTitle:'S(100-300)/S(50-100)',titlePad:11,label:'CGRO/BATSE',labelY:1198,padTop:849,padBottom:0,showX:true});
</script>
</body></html>
